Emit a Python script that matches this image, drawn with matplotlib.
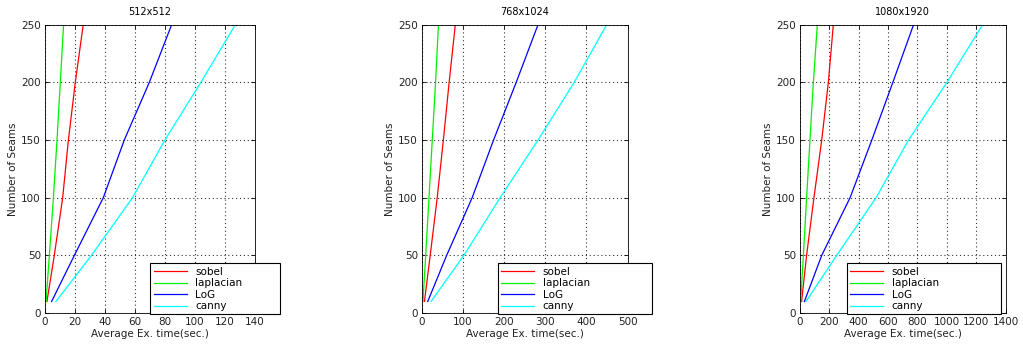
import matplotlib.pyplot as plt
import numpy as np

# Data: number of seams vs average execution time (sec.) per image size
seams = [10, 50, 100, 150, 200, 250]
titles = ['512x512', '768x1024', '1080x1920']
methods = ['sobel', 'laplacian', 'LoG', 'canny']
colors = ['#ff0000', '#00f000', '#0000ff', '#00ffff']

times_512 = {
    'sobel':     [1.3, 6.2, 11.8, 15.6, 20.2, 25.5],
    'laplacian': [0.7, 2.9, 5.6, 8.0, 10.2, 12.4],
    'LoG':       [4.4, 19.6, 38.9, 52.9, 69.6, 84.5],
    'canny':     [7.3, 31.0, 58.4, 80.0, 104.0, 127.0],
}
times_768 = {
    'sobel':     [6, 20, 37, 52, 66, 81],
    'laplacian': [2.4, 9, 17, 25, 33, 40],
    'LoG':       [14, 60, 122, 174, 229, 282],
    'canny':     [22, 102, 190, 282, 370, 449],
}
times_1080 = {
    'sobel':     [11, 45, 95, 148, 193, 227],
    'laplacian': [5, 23, 45, 68, 91, 118],
    'LoG':       [30, 148, 341, 489, 632, 773],
    'canny':     [41, 250, 518, 739, 1000, 1243],
}
all_times = [times_512, times_768, times_1080]
xmax = [140, 500, 1400]
xstep = [20, 100, 200]

plt.rcParams['font.family'] = 'DejaVu Sans'
plt.rcParams['font.size'] = 7.5

fig = plt.figure(figsize=(10.23, 3.48), dpi=100)

# axes positions (left, width) in figure fraction, legend boxes in axes fraction
lefts = [0.044, 0.4125, 0.782]
widths = [0.205, 0.201, 0.201]
leg_boxes = [(0.503, -0.005, 0.617, 0.165),
             (0.369, -0.005, 0.752, 0.165),
             (0.228, -0.005, 0.748, 0.165)]

for i in range(3):
    ax = fig.add_axes([lefts[i], 0.1006, widths[i], 0.828])
    for m, c in zip(methods, colors):
        ax.plot(all_times[i][m], seams, color=c, linewidth=0.9, label=m)
    ax.set_xlim(0, xmax[i])
    ax.set_ylim(0, 250)
    ax.set_xticks(np.arange(0, xmax[i] + 1, xstep[i]))
    ax.set_yticks(np.arange(0, 251, 50))
    ax.tick_params(direction='in', length=3, width=0.6, top=True, right=True,
                   pad=3, labelsize=7.5, labelcolor='#222222')
    ax.grid(True, linestyle=(0, (1, 2.5)), color='#333333', linewidth=0.8)
    for s in ax.spines.values():
        s.set_linewidth(0.6)
    ax.set_title(titles[i], fontsize=7, pad=7)
    ax.set_xlabel('Average Ex. time(sec.)', labelpad=1, color='#222222')
    ax.set_ylabel('Number of Seams', labelpad=2, color='#222222')
    leg = ax.legend(loc='lower left', bbox_to_anchor=leg_boxes[i], mode='expand',
                    fancybox=False, framealpha=1, edgecolor='black', fontsize=7.5,
                    handlelength=3.2, borderpad=0.3, labelspacing=0.15,
                    borderaxespad=0)
    leg.get_frame().set_linewidth(0.8)
    leg.set_zorder(10)

plt.savefig('out.png', dpi=100)
